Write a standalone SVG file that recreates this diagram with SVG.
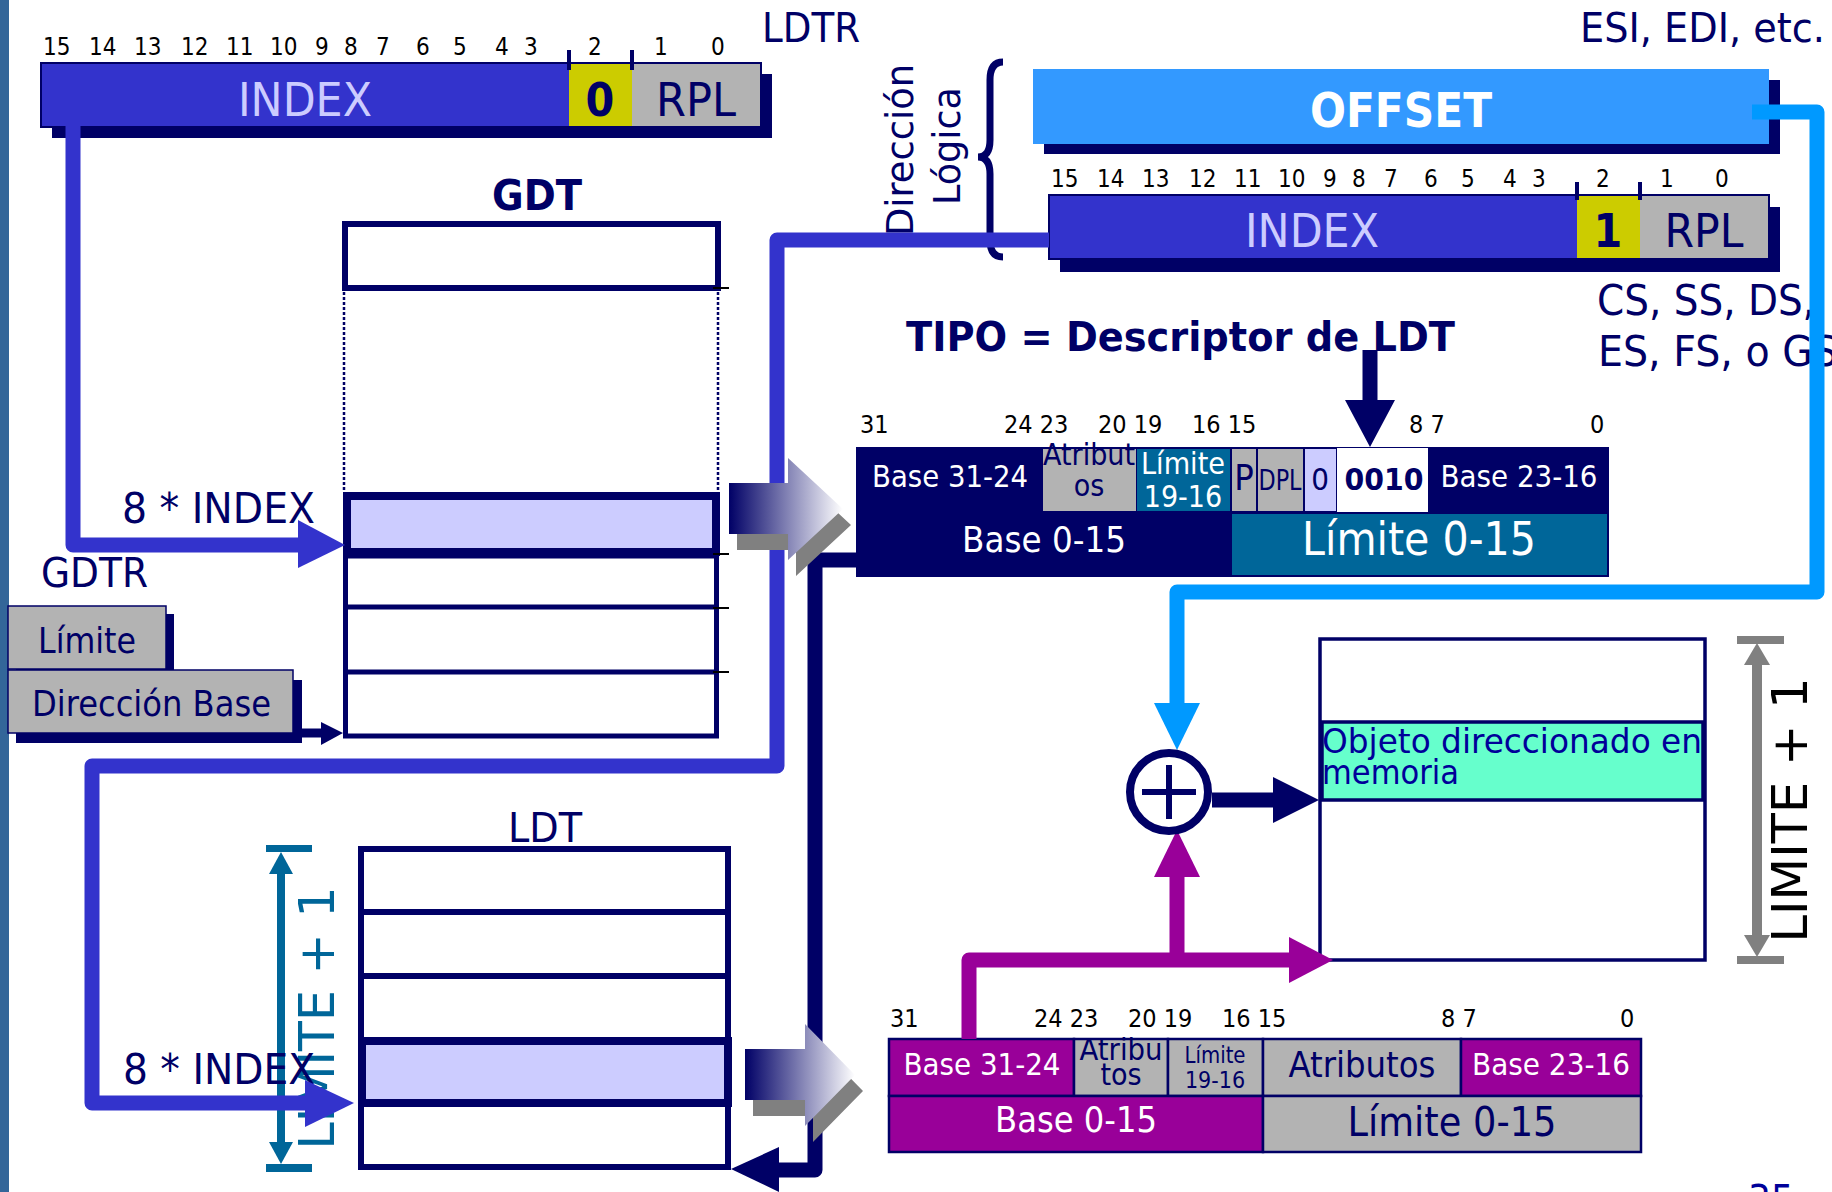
<svg xmlns="http://www.w3.org/2000/svg" width="1832" height="1192" viewBox="0 0 1832 1192">
<defs>
<style>
text{font-family:'DejaVu Sans Condensed','DejaVu Sans',sans-serif;font-stretch:condensed}
.wide{font-family:'DejaVu Sans',sans-serif;font-stretch:normal}
.nv{fill:#000066}.wh{fill:#fff}.lv{fill:#ccccff}.bk{fill:#000}
.b{font-weight:bold}
.m{text-anchor:middle}
.bits{font-size:24px;fill:#000}
.dbits{font-size:25px;fill:#000}
.shd{fill:#000066}
.gray{fill:#b3b3b3}
.yel{fill:#cccc00}
.teal{fill:#006699}
.mag{fill:#990099}
.cell{stroke:#000066;stroke-width:2.5}
.tbl{fill:#fff;stroke:#000066;stroke-width:6}
.hl{fill:#ccccff;stroke:#000066;stroke-width:8}
.tick{stroke:#000;stroke-width:2}
.ln{fill:none;stroke-width:15;stroke-linejoin:round}
</style>
<linearGradient id="grad" x1="0" y1="0" x2="1" y2="0">
<stop offset="0" stop-color="#000066"/>
<stop offset="1" stop-color="#ffffff"/>
</linearGradient>
</defs>
<rect width="1832" height="1192" fill="#fff"/>
<rect x="0" y="0" width="9" height="1192" fill="#336699"/>

<g id="ldtr">
<rect class="shd" x="52" y="74" width="720" height="64"/>
<rect x="41" y="63" width="528" height="64" fill="#3333cc"/>
<rect class="yel" x="569" y="63" width="63" height="64"/>
<rect class="gray" x="632" y="63" width="129" height="64"/>
<rect x="41" y="63" width="720" height="64" fill="none" stroke="#000066" stroke-width="2"/>
<line x1="569" y1="50" x2="569" y2="70" stroke="#000066" stroke-width="4"/>
<line x1="632" y1="50" x2="632" y2="70" stroke="#000066" stroke-width="4"/>
<text class="bits"><tspan x="43" y="55">15</tspan><tspan x="89">14</tspan><tspan x="134">13</tspan><tspan x="181">12</tspan><tspan x="226">11</tspan><tspan x="270">10</tspan><tspan x="315">9</tspan><tspan x="344">8</tspan><tspan x="376">7</tspan><tspan x="416">6</tspan><tspan x="453">5</tspan><tspan x="495">4</tspan><tspan x="524">3</tspan><tspan x="588">2</tspan><tspan x="654">1</tspan><tspan x="711">0</tspan></text>
<text class="lv m" x="305" y="116" font-size="46" textLength="134" lengthAdjust="spacingAndGlyphs">INDEX</text>
<text class="nv m b" x="600" y="116" font-size="46">0</text>
<text class="nv m" x="696" y="116" font-size="46" textLength="80" lengthAdjust="spacingAndGlyphs">RPL</text>
<text class="nv" x="762" y="42" font-size="40" textLength="98" lengthAdjust="spacingAndGlyphs">LDTR</text>
</g>

<g id="logical-address">
<text class="nv wide m" transform="translate(913,150) rotate(-90)" font-size="37" textLength="172" lengthAdjust="spacingAndGlyphs">Dirección</text>
<text class="nv wide m" transform="translate(960,146) rotate(-90)" font-size="37" textLength="118" lengthAdjust="spacingAndGlyphs">Lógica</text>
<path d="M1003 62 Q990 62 990 80 L990 140 Q990 157 978 157 Q990 157 990 174 L990 240 Q990 257 1003 257" fill="none" stroke="#000066" stroke-width="7"/>
</g>

<g id="offset">
<rect class="shd" x="1044" y="80" width="736" height="74"/>
<rect x="1033" y="69" width="736" height="75" fill="#3399ff"/>
<text class="wh m b" x="1401" y="127" font-size="48" textLength="182" lengthAdjust="spacingAndGlyphs">OFFSET</text>
<text class="nv" x="1580" y="42" font-size="41" textLength="245" lengthAdjust="spacingAndGlyphs">ESI, EDI, etc.</text>
</g>

<g id="selector">
<rect class="shd" x="1060" y="207" width="720" height="65"/>
<rect x="1049" y="195" width="528" height="64" fill="#3333cc"/>
<rect class="yel" x="1577" y="195" width="63" height="64"/>
<rect class="gray" x="1640" y="195" width="129" height="64"/>
<rect x="1049" y="195" width="720" height="64" fill="none" stroke="#000066" stroke-width="2"/>
<line x1="1577" y1="182" x2="1577" y2="200" stroke="#000066" stroke-width="4"/>
<line x1="1640" y1="182" x2="1640" y2="200" stroke="#000066" stroke-width="4"/>
<text class="bits"><tspan x="1051" y="187">15</tspan><tspan x="1097">14</tspan><tspan x="1142">13</tspan><tspan x="1189">12</tspan><tspan x="1234">11</tspan><tspan x="1278">10</tspan><tspan x="1323">9</tspan><tspan x="1352">8</tspan><tspan x="1384">7</tspan><tspan x="1424">6</tspan><tspan x="1461">5</tspan><tspan x="1503">4</tspan><tspan x="1532">3</tspan><tspan x="1596">2</tspan><tspan x="1660">1</tspan><tspan x="1715">0</tspan></text>
<text class="lv m" x="1312" y="247" font-size="46" textLength="134" lengthAdjust="spacingAndGlyphs">INDEX</text>
<text class="nv m b" x="1608" y="247" font-size="46">1</text>
<text class="nv m" x="1704" y="247" font-size="46" textLength="79" lengthAdjust="spacingAndGlyphs">RPL</text>
<text class="nv" x="1597" y="315" font-size="42" textLength="218" lengthAdjust="spacingAndGlyphs">CS, SS, DS,</text>
<text class="nv" x="1598" y="366" font-size="42" textLength="240" lengthAdjust="spacingAndGlyphs">ES, FS, o GS</text>
</g>

<g id="gdt">
<text class="nv m b" x="537" y="210" font-size="42" textLength="90" lengthAdjust="spacingAndGlyphs">GDT</text>
<rect class="tbl" x="345" y="224" width="373" height="64"/>
<line x1="344" y1="292" x2="344" y2="490" stroke="#000066" stroke-width="2.5" stroke-dasharray="3,2"/>
<line x1="718" y1="292" x2="718" y2="490" stroke="#000066" stroke-width="2.5" stroke-dasharray="3,2"/>
<rect x="345.5" y="556" width="371" height="180" fill="#fff" stroke="#000066" stroke-width="5"/>
<line x1="345" y1="607" x2="718" y2="607" stroke="#000066" stroke-width="5"/>
<line x1="345" y1="672" x2="718" y2="672" stroke="#000066" stroke-width="5"/>
<rect class="hl" x="347" y="496" width="369" height="56"/>
<line class="tick" x1="713" y1="288" x2="729" y2="288"/>
<line class="tick" x1="713" y1="554" x2="729" y2="554"/>
<line class="tick" x1="713" y1="608" x2="729" y2="608"/>
<line class="tick" x1="713" y1="672" x2="729" y2="672"/>
<text class="nv" x="122" y="523" font-size="43" textLength="193" lengthAdjust="spacingAndGlyphs">8 * INDEX</text>
</g>

<g id="gdtr">
<text class="nv" x="41" y="587" font-size="40" textLength="107" lengthAdjust="spacingAndGlyphs">GDTR</text>
<rect class="shd" x="16" y="614" width="158" height="63"/>
<rect class="gray" x="8" y="606" width="158" height="63" stroke="#000066" stroke-width="1.5"/>
<text class="nv" x="38" y="653" font-size="36" textLength="98" lengthAdjust="spacingAndGlyphs">Límite</text>
<rect class="shd" x="16" y="680" width="286" height="63"/>
<rect class="gray" x="8" y="670" width="285" height="63" stroke="#000066" stroke-width="1.5"/>
<text class="nv" x="32" y="716" font-size="36" textLength="239" lengthAdjust="spacingAndGlyphs">Dirección Base</text>
</g>

<g id="ldt">
<text class="nv" x="508" y="842" font-size="40" textLength="74" lengthAdjust="spacingAndGlyphs">LDT</text>
<rect class="tbl" x="361" y="849" width="367" height="318"/>
<line x1="358" y1="912" x2="731" y2="912" stroke="#000066" stroke-width="6"/>
<line x1="358" y1="976" x2="731" y2="976" stroke="#000066" stroke-width="6"/>
<rect class="hl" x="362" y="1041" width="366" height="62"/>
<g id="ldt-limit">
<line x1="281" y1="860" x2="281" y2="1156" stroke="#006699" stroke-width="8"/>
<rect class="teal" x="266" y="845" width="46" height="7"/>
<rect class="teal" x="266" y="1164" width="46" height="8"/>
<polygon class="teal" points="269,874 281,852 293,874"/>
<polygon class="teal" points="269,1142 281,1164 293,1142"/>
<text class="wide m" fill="#006699" transform="translate(334,1018) rotate(-90)" font-size="50" textLength="263" lengthAdjust="spacingAndGlyphs">LIMITE + 1</text>
</g>
<text class="nv" x="123" y="1084" font-size="43" textLength="192" lengthAdjust="spacingAndGlyphs">8 * INDEX</text>
</g>

<g id="ldt-descriptor">
<text class="nv b" x="906" y="351" font-size="41" textLength="549" lengthAdjust="spacingAndGlyphs">TIPO = Descriptor de LDT</text>
<text class="dbits"><tspan x="860" y="433">31</tspan><tspan x="1004">24 23</tspan><tspan x="1098">20 19</tspan><tspan x="1192">16 15</tspan><tspan x="1409">8 7</tspan><tspan x="1590">0</tspan></text>
<rect class="shd" x="856" y="447" width="753" height="130"/>
<rect class="gray" x="1043" y="449" width="93" height="62"/>
<rect class="teal" x="1137" y="449" width="93" height="62"/>
<rect class="gray" x="1232" y="449" width="24" height="62"/>
<rect class="gray" x="1258" y="449" width="45" height="62"/>
<rect class="lv" x="1305" y="449" width="31" height="62"/>
<rect class="wh" x="1337" y="448" width="91" height="64"/>
<rect class="teal" x="1232" y="514" width="375" height="61"/>
<text class="wh m" x="950" y="487" font-size="30" textLength="156" lengthAdjust="spacingAndGlyphs">Base 31-24</text>
<text class="nv m" x="1089" y="465" font-size="30" textLength="92" lengthAdjust="spacingAndGlyphs">Atribut</text>
<text class="nv m" x="1089" y="496" font-size="30">os</text>
<text class="wh m" x="1183" y="474" font-size="30" textLength="84" lengthAdjust="spacingAndGlyphs">Límite</text>
<text class="wh m" x="1183" y="507" font-size="30">19-16</text>
<text class="nv m" x="1244" y="490" font-size="36">P</text>
<text class="nv m" x="1280" y="490" font-size="28" textLength="43" lengthAdjust="spacingAndGlyphs">DPL</text>
<text class="nv m" x="1320" y="490" font-size="31">0</text>
<text class="nv m b" x="1384" y="490" font-size="31" textLength="79" lengthAdjust="spacingAndGlyphs">0010</text>
<text class="wh m" x="1519" y="487" font-size="30" textLength="157" lengthAdjust="spacingAndGlyphs">Base 23-16</text>
<text class="wh m" x="1044" y="552" font-size="36" textLength="164" lengthAdjust="spacingAndGlyphs">Base 0-15</text>
<text class="wh m" x="1419" y="555" font-size="46" textLength="234" lengthAdjust="spacingAndGlyphs">Límite 0-15</text>
</g>

<g id="segment-descriptor">
<text class="dbits"><tspan x="890" y="1027">31</tspan><tspan x="1034">24 23</tspan><tspan x="1128">20 19</tspan><tspan x="1222">16 15</tspan><tspan x="1441">8 7</tspan><tspan x="1620">0</tspan></text>
<rect class="mag cell" x="889" y="1039" width="185" height="57"/>
<rect class="gray cell" x="1074" y="1039" width="94" height="57"/>
<rect class="gray cell" x="1168" y="1039" width="95" height="57"/>
<rect class="gray cell" x="1263" y="1039" width="198" height="57"/>
<rect class="mag cell" x="1461" y="1039" width="180" height="57"/>
<rect class="mag cell" x="889" y="1096" width="374" height="56"/>
<rect class="gray cell" x="1263" y="1096" width="378" height="56"/>
<text class="wh m" x="982" y="1075" font-size="30" textLength="157" lengthAdjust="spacingAndGlyphs">Base 31-24</text>
<text class="nv m" x="1121" y="1060" font-size="30" textLength="83" lengthAdjust="spacingAndGlyphs">Atribu</text>
<text class="nv m" x="1121" y="1085" font-size="30">tos</text>
<text class="nv m" x="1215" y="1063" font-size="23" textLength="61" lengthAdjust="spacingAndGlyphs">Límite</text>
<text class="nv m" x="1215" y="1088" font-size="23">19-16</text>
<text class="nv m" x="1362" y="1077" font-size="36" textLength="147" lengthAdjust="spacingAndGlyphs">Atributos</text>
<text class="wh m" x="1551" y="1075" font-size="30" textLength="158" lengthAdjust="spacingAndGlyphs">Base 23-16</text>
<text class="wh m" x="1076" y="1132" font-size="36" textLength="162" lengthAdjust="spacingAndGlyphs">Base 0-15</text>
<text class="nv m" x="1452" y="1136" font-size="41" textLength="209" lengthAdjust="spacingAndGlyphs">Límite 0-15</text>
</g>

<g id="memory">
<rect x="1320" y="639" width="385" height="321" fill="#fff" stroke="#000066" stroke-width="3.5"/>
<rect x="1322" y="722" width="381" height="78" fill="#66ffcc" stroke="#000066" stroke-width="3.5"/>
<text x="1322" y="753" font-size="34" fill="#000099" textLength="380" lengthAdjust="spacingAndGlyphs">Objeto direccionado en</text>
<text x="1322" y="784" font-size="34" fill="#000099">memoria</text>
<g id="mem-limit">
<line x1="1757" y1="655" x2="1757" y2="945" stroke="#808080" stroke-width="10"/>
<rect x="1737" y="636" width="47" height="8" fill="#808080"/>
<rect x="1737" y="956" width="47" height="8" fill="#808080"/>
<polygon points="1744,665 1757,643 1770,665" fill="#808080"/>
<polygon points="1744,935 1757,957 1770,935" fill="#808080"/>
<text class="wide m bk" transform="translate(1807,810) rotate(-90)" font-size="50" textLength="265" lengthAdjust="spacingAndGlyphs">LIMITE + 1</text>
</g>
</g>

<text x="1748" y="1214" font-size="40" fill="#000099">35</text>

<g id="connectors">
<path class="ln" d="M73 126 V545 H300" stroke="#3333cc"/>
<polygon points="298,520 345,545 298,568" fill="#3333cc"/>
<path class="ln" d="M1049 240 H777 V766 H92 V1103 H308" stroke="#3333cc"/>
<polygon points="305,1080 354,1103 305,1127" fill="#3333cc"/>
<path d="M302 733 H323" fill="none" stroke="#000066" stroke-width="9"/>
<polygon points="321,722 343,733 321,745" fill="#000066"/>
<path class="ln" d="M857 560 H815 V1170 H776" stroke="#000066"/>
<polygon points="779,1147 731,1169 779,1192" fill="#000066"/>
<path class="ln" d="M1752 112 H1817 V592 H1177 V706" stroke="#0099ff"/>
<polygon points="1154,703 1177,750 1200,703" fill="#0099ff"/>
<path class="ln" d="M969 1039 V960 H1292" stroke="#990099"/>
<polygon points="1289,937 1333,960 1289,983" fill="#990099"/>
<path class="ln" d="M1177 960 V874" stroke="#990099"/>
<polygon points="1154,877 1177,830 1200,877" fill="#990099"/>
<path class="ln" d="M1212 800 H1276" stroke="#000066"/>
<polygon points="1273,777 1319,800 1273,823" fill="#000066"/>
<path class="ln" d="M1370 350 V402" stroke="#000066"/>
<polygon points="1345,400 1395,400 1370,447" fill="#000066"/>
</g>

<g id="adder">
<circle cx="1169" cy="792" r="39" fill="#fff" stroke="#000066" stroke-width="8"/>
<line x1="1142" y1="792" x2="1196" y2="792" stroke="#000066" stroke-width="6"/>
<line x1="1169" y1="765" x2="1169" y2="819" stroke="#000066" stroke-width="6"/>
</g>

<g id="transfer-arrows">
<polygon points="737,499 796,499 796,474 851,525 796,576 796,550 737,550" fill="#808080"/>
<polygon points="729,483 788,483 788,458 843,509 788,560 788,534 729,534" fill="url(#grad)"/>
<polygon points="753,1065 813,1065 813,1040 863,1091 813,1142 813,1116 753,1116" fill="#808080"/>
<polygon points="745,1049 805,1049 805,1024 855,1075 805,1126 805,1100 745,1100" fill="url(#grad)"/>
</g>
</svg>
